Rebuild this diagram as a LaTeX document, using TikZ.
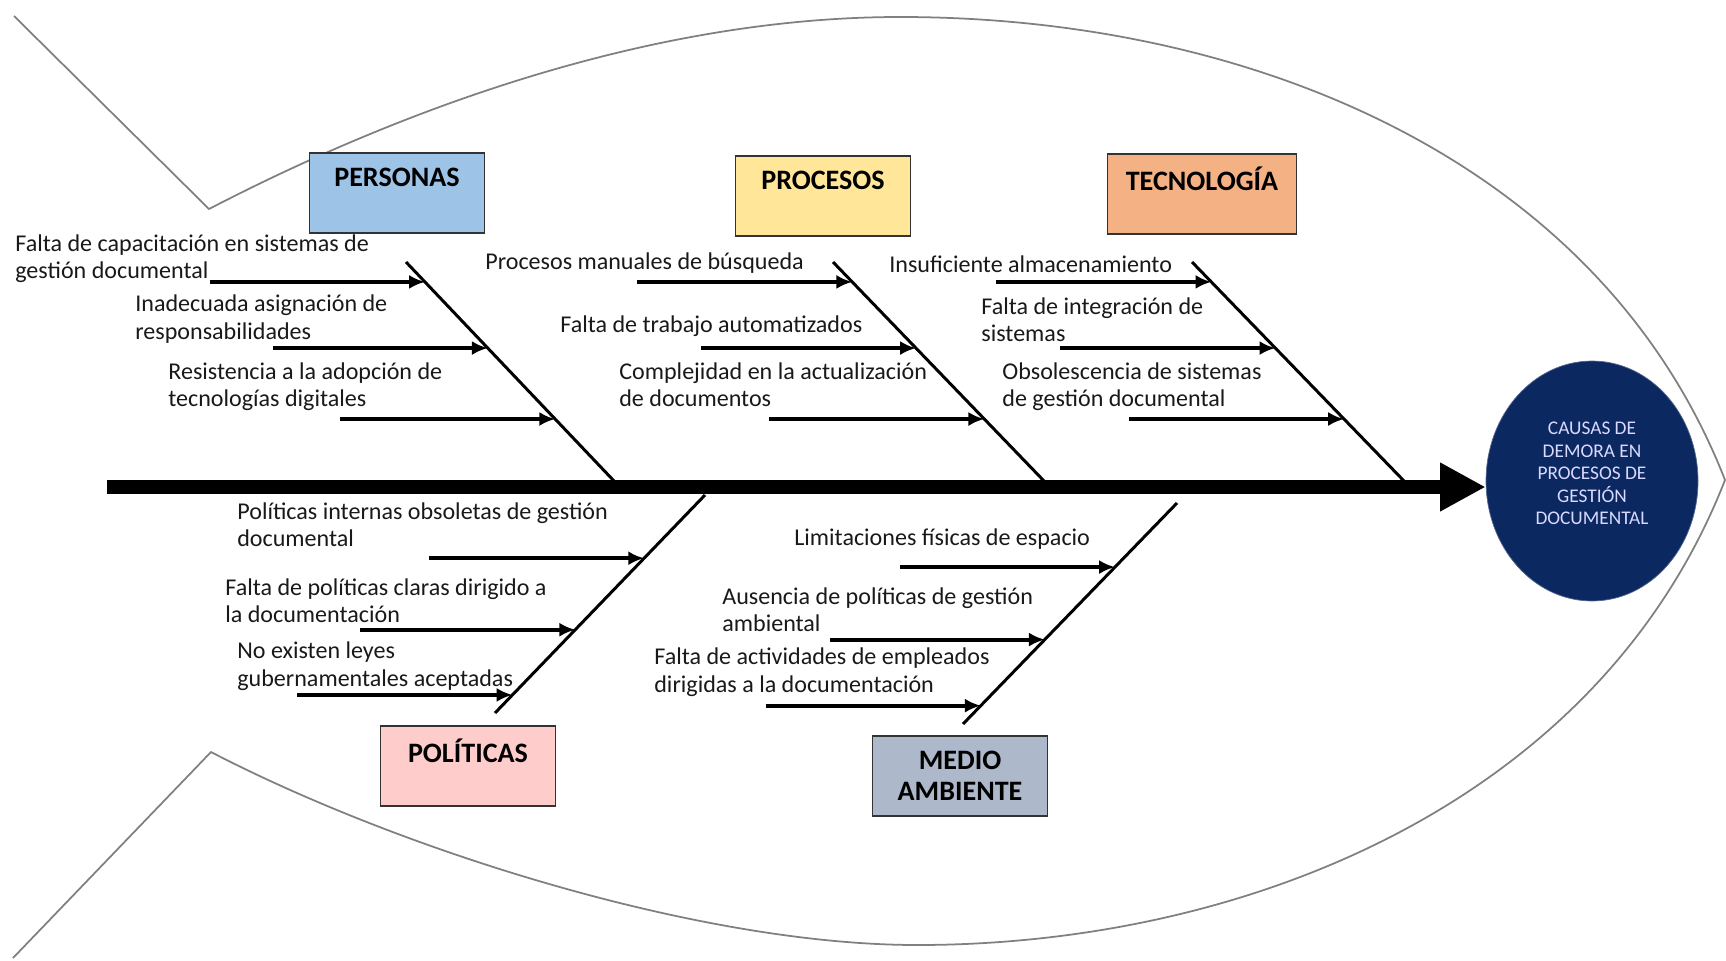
\documentclass[tikz,border=0pt]{standalone}
\usepackage{fontspec}
\setmainfont{Carlito}
\usepackage{tikz}
\usetikzlibrary{arrows.meta,positioning,calc,shapes.geometric}

\definecolor{personas}{RGB}{157,195,230}
\definecolor{procesos}{RGB}{255,230,153}
\definecolor{tecno}{RGB}{244,177,131}
\definecolor{politicas}{RGB}{255,204,204}
\definecolor{medio}{RGB}{173,185,202}
\definecolor{efecto}{RGB}{12,40,96}

\begin{document}
\begin{tikzpicture}[x=0.02cm,y=-0.02cm,
  cat/.style={draw=black!80, line width=0.8pt, inner sep=0pt, minimum width=3.5cm, minimum height=1.6cm, align=center, font=\fontsize{16}{17.6}\selectfont\bfseries},
  cause/.style={anchor=west, align=left, inner sep=0pt, text=black!90, font=\fontsize{13.7}{15.6}\selectfont},
  bone/.style={line width=1.7pt},
  sub/.style={line width=2.2pt, -{Latex[length=9pt,width=8pt]}},
  spine/.style={line width=8.5pt, -{Triangle[length=26pt,width=26pt]}}]
\useasboundingbox (0,0) rectangle (1726,960);

% fish outline
\draw[gray, line width=1pt] (14,16) -- (209,209) .. controls (400,110) and (650,17) .. (900,17)
  .. controls (1250,17) and (1600,160) .. (1725,480)
  .. controls (1600,800) and (1250,945) .. (917,945)
  .. controls (700,945) and (400,850) .. (211,752) -- (13,958);

% head and spine
\node[ellipse, fill=efecto, draw=efecto!70!white, inner sep=0pt, minimum width=4.24cm, minimum height=4.8cm,
  align=center, text=white!85!blue, font=\fontsize{11}{12.8}\selectfont] (efecto) at (1592,481)
  {CAUSAS DE\\DEMORA EN\\PROCESOS DE\\GESTIÓN\\DOCUMENTAL\\[-4pt]~};
\coordinate (cola) at (107,487);
\draw[spine] (cola) -- (cola -| efecto.west);

% categories
\node[cat, fill=personas] (personas) at (397,193) {PERSONAS\\~};
\node[cat, fill=procesos] (procesos) at (823,196) {PROCESOS\\~};
\node[cat, fill=tecno, minimum width=3.78cm] (tecno) at (1202,194) {TECNOLOGÍA\\~};
\node[cat, fill=politicas] (politicas) at (468,766) {POLÍTICAS\\~};
\node[cat, fill=medio] (medio) at (960,776) {MEDIO\\AMBIENTE};

% bones
\coordinate (p-ini) at (406,262); \coordinate (p-fin) at (614,481);
\coordinate (r-ini) at (833,262); \coordinate (r-fin) at (1044,481);
\coordinate (t-ini) at (1192,262); \coordinate (t-fin) at (1404,481);
\coordinate (l-ini) at (705,495); \coordinate (l-fin) at (495,713);
\coordinate (m-ini) at (1177,503); \coordinate (m-fin) at (963,724);
\foreach \b in {p,r,t,l,m}
  \draw[bone] (\b-ini) -- (\b-fin);

% cause arrows
\foreach \b in {p,r,t}
  \foreach \t [count=\i] in {0.091,0.393,0.717} {
    \coordinate (\b-\i) at ($(\b-ini)!\t!(\b-fin)$);
    \coordinate (\b-\i s) at ($(\b-\i)+(-215,0)$);
    \draw[sub] (\b-\i s) -- (\b-\i);
  }
\foreach \b in {l,m}
  \foreach \t [count=\i] in {0.29,0.618,0.917} {
    \coordinate (\b-\i) at ($(\b-ini)!\t!(\b-fin)$);
    \coordinate (\b-\i s) at ($(\b-\i)+(-215,0)$);
    \draw[sub] (\b-\i s) -- (\b-\i);
  }

% causes
\node[cause] (pa) at (15,259) {Falta de capacitación en sistemas de\\gestión documental};
\node[cause] (pb) at (135,319) {Inadecuada asignación de\\responsabilidades};
\node[cause] (pc) at (168,387) {Resistencia a la adopción de\\tecnologías digitales};
\node[cause] (ra) at (485,263) {Procesos manuales de búsqueda};
\node[cause] (rb) at (560,326) {Falta de trabajo automatizados};
\node[cause] (rc) at (619,385) {Complejidad en la actualización\\de documentos};
\node[cause] (ta) at (889,264) {Insuficiente almacenamiento};
\node[cause] (tb) at (981,320) {Falta de integración de\\sistemas};
\node[cause] (tc) at (1002,387) {Obsolescencia de sistemas\\de gestión documental};
\node[cause] (la) at (237,525) {Políticas internas obsoletas de gestión\\documental};
\node[cause] (lb) at (225,601) {Falta de políticas claras dirigido a\\la documentación};
\node[cause] (lc) at (237,666) {No existen leyes\\gubernamentales aceptadas};
\node[cause] (ma) at (794,539) {Limitaciones físicas de espacio};
\node[cause] (mb) at (722,610) {Ausencia de políticas de gestión\\ambiental};
\node[cause] (mc) at (654,672) {Falta de actividades de empleados\\dirigidas a la documentación};
\end{tikzpicture}
\end{document}
